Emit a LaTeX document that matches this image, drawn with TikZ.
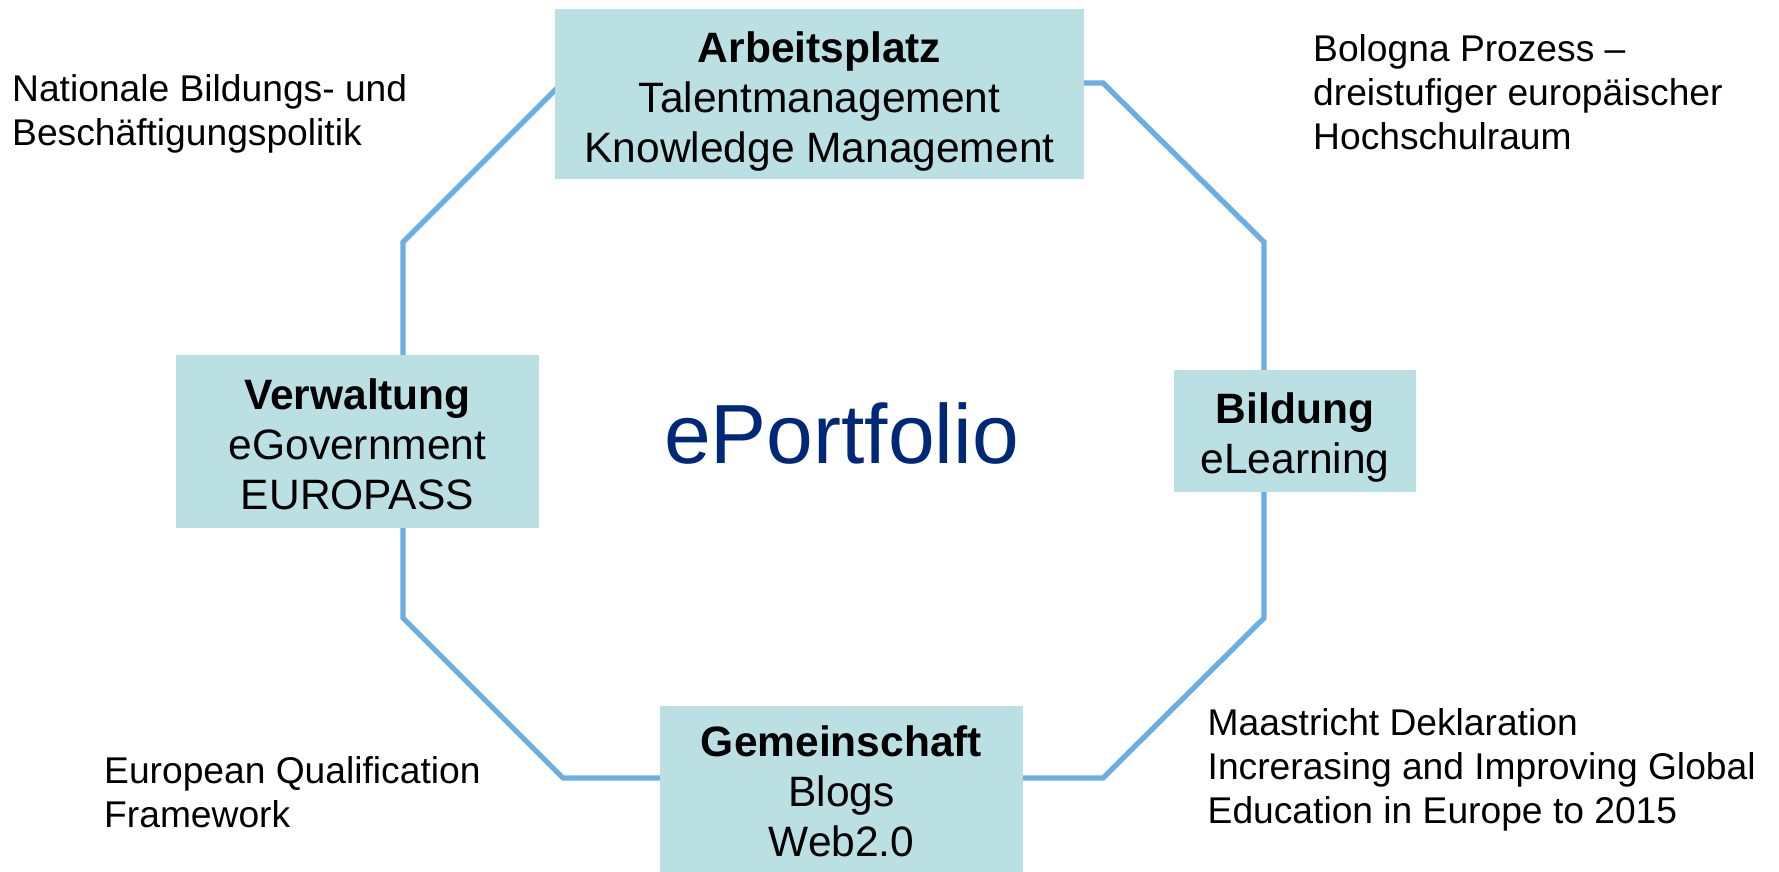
\documentclass[tikz,border=0pt]{standalone}
\usepackage{fontspec}
\setmainfont{Liberation Sans}
\usetikzlibrary{calc}
\definecolor{boxfill}{RGB}{187,224,227}
\definecolor{ringblue}{RGB}{108,174,228}
\definecolor{navy}{RGB}{0,40,120}
\begin{document}
\begin{tikzpicture}[x=1pt,y=-1pt,
  box/.style={fill=boxfill, draw=none, inner sep=0pt},
  boxtext/.style={align=center, inner sep=0pt, font=\fontsize{42.5}{50}\selectfont},
  sidetext/.style={align=left, anchor=west, inner sep=0pt, font=\fontsize{37.2}{44}\selectfont},
  ring/.style={draw=ringblue, line width=5.3pt, line join=miter}]
\useasboundingbox (0,0) rectangle (1779,872);
\clip (0,0) rectangle (1779,872);

% corners of the octagonal ring
\coordinate (r1) at (562,83);
\coordinate (r2) at (1103,83);
\coordinate (r3) at (1264,242);
\coordinate (r4) at (1264,618);
\coordinate (r5) at (1103,778);
\coordinate (r6) at (563,778);
\coordinate (r7) at (403,618);
\coordinate (r8) at (403,242);
\draw[ring] (r1) -- (r2) -- (r3) -- (r4) -- (r5) -- (r6) -- (r7) -- (r8) -- cycle;

% the four fields sitting on the ring
\node[box, minimum width=529pt, minimum height=170pt] (arb) at (819.5,94) {};
\node[box, minimum width=363pt, minimum height=173pt] (ver) at (357.5,441.5) {};
\node[box, minimum width=242pt, minimum height=122pt] (bil) at (1295,431) {};
\node[box, minimum width=363pt, minimum height=172pt] (gem) at (841.5,792) {};

\node[boxtext] (arbt) at (819.5,101.5) {\textbf{Arbeitsplatz}\\Talentmanagement\\Knowledge Management};
\node[boxtext] (vert) at (357.5,444.8) {\textbf{Verwaltung}\\eGovernment\\EUROPASS};
\node[boxtext] (bilt) at (1295,437.3) {\textbf{Bildung}\\eLearning};
\node[boxtext] (gemt) at (841.5,791.5) {\textbf{Gemeinschaft}\\Blogs\\Web2.0};

% centre title
\node[font=\fontsize{84}{100}\selectfont, text=navy, inner sep=0pt] (ep) at (841.5,433.5) {ePortfolio};

% surrounding policy frameworks
\node[sidetext] (nat) at (12,114) {Nationale Bildungs- und\\Besch\"aftigungspolitik};
\node[sidetext] (bol) at (1313,92) {Bologna Prozess \textendash\\dreistufiger europ\"aischer\\Hochschulraum};
\node[sidetext] (eqf) at (104,792) {European Qualification\\Framework};
\node[sidetext] (maa) at (1207.5,770) {Maastricht Deklaration\\Increrasing and Improving Global\\Education in Europe to 2015};
\end{tikzpicture}
\end{document}
